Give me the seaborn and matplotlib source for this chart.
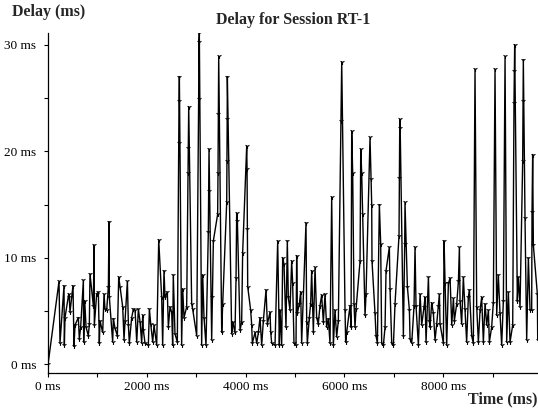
import matplotlib
matplotlib.use("Agg")
import matplotlib.pyplot as plt
from matplotlib.ticker import MultipleLocator
import seaborn as sns

times = [
    0, 223, 243, 324, 331, 344, 419, 431, 445, 506, 526, 547, 614, 634, 661, 716, 722, 743, 770, 816,
    837, 850, 918, 932, 938, 985, 1019, 1039,
    1053, 1107, 1134, 1154, 1188, 1222, 1235, 1242, 1309, 1323, 1356, 1404, 1431, 1458, 1512, 1539,
    1559, 1607, 1627, 1646, 1694, 1728, 1762, 1796, 1829, 1863, 1897, 1917, 1930, 1964, 2031, 2052,
    2079, 2120, 2146, 2200, 2241,
    2301, 2321, 2348, 2368, 2415, 2436, 2470, 2504, 2523, 2536, 2570, 2618, 2645, 2652, 2659, 2705,
    2726, 2753, 2807, 2834, 2841, 2848, 2908, 2928, 3010, 3049, 3056, 3063, 3110, 3131, 3158, 3198,
    3245, 3252, 3259, 3313, 3327, 3347, 3434, 3441, 3448, 3455,
    3516, 3536, 3617, 3623, 3627, 3630, 3718, 3738, 3785, 3806, 3819, 3833, 3887, 3920, 3940, 4022,
    4029, 4035, 4042, 4102, 4123, 4136, 4191, 4225, 4258, 4291, 4325, 4359, 4413, 4440, 4494, 4508,
    4528, 4595, 4649, 4683,
    4696, 4730, 4750, 4777, 4817, 4844, 4864, 4898, 4932, 4952, 4979, 5020, 5033, 5047, 5087, 5115,
    5134, 5222, 5236, 5249, 5289, 5316, 5337, 5371, 5405, 5438, 5471, 5505, 5539, 5573, 5607, 5640,
    5674, 5708, 5742, 5776, 5809, 5843, 5877,
    5931, 5945, 6012, 6025, 6045, 6113, 6134, 6147, 6167, 6194, 6214, 6235, 6316, 6330, 6349, 6369,
    6417, 6437, 6518, 6538, 6552, 6558, 6619, 6640, 6667, 6707, 6734, 6754, 6788, 6822, 6842, 6909,
    6923, 6957, 6991, 7024, 7105, 7112, 7119, 7126,
    7193, 7220, 7226, 7274, 7315, 7328, 7362, 7409, 7429, 7449, 7497, 7531, 7564, 7611, 7632, 7652,
    7700, 7719, 7733, 7766, 7800, 7834, 7868, 7901, 7922, 7935, 8003, 8017, 8037, 8070, 8104, 8138,
    8172, 8206, 8225, 8273, 8307, 8327,
    8340, 8373, 8407, 8440, 8474, 8508, 8529, 8576, 8609, 8643, 8677, 8711, 8745, 8778, 8812, 8846,
    8880, 8914, 8933, 8980, 9014, 9048, 9082, 9115, 9149, 9183, 9217, 9251, 9284, 9318, 9352, 9406,
    9432, 9439, 9446, 9500, 9520, 9554, 9608, 9615, 9621, 9655, 9689, 9723, 9757, 9790, 9797,
    9810, 9824, 9905, 9912,
]
delays = [
    0, 7.8, 2.0, 7.4, 1.8, 4.4, 6.6, 6.3, 4.9, 7.4, 1.7, 3.7, 4.4, 2.4, 3.5, 7.9, 2.1, 6.0, 3.5, 2.7,
    3.8, 8.5, 5.5, 11.2, 3.7, 6.6, 6.8, 2.0,
    4.1, 3.0, 6.6, 5.2, 5.1, 7.3, 13.4, 6.3, 2.1, 4.3, 3.4, 2.7, 8.2, 7.3, 5.4, 2.3,
    4.1, 7.8, 3.7, 2.0, 4.4, 5.2, 5.1, 2.1, 5.2, 4.0, 2.0, 4.6, 3.2, 2.0, 1.8, 5.2,
    3.8, 2.1, 3.7, 1.8, 11.7,
    6.3, 1.8, 8.8, 6.3, 6.8, 3.5, 5.4, 4.9, 1.8, 8.4, 2.9, 2.1, 20.8, 24.7, 27.0, 1.8,
    7.1, 4.4, 5.4, 18.0, 20.3, 24.2, 5.7, 5.2, 2.7, 24.9, 30.3, 31.1, 1.8, 8.4, 4.4, 1.8,
    12.4, 16.3, 20.2, 2.3, 6.3, 11.6, 14.1, 18.0, 23.5, 28.9,
    3.0, 5.7, 15.2, 19.1, 23.0, 27.0, 2.9, 4.0, 3.0, 8.1, 14.2, 13.5, 3.2, 4.0, 10.5, 20.5,
    18.3, 12.7, 7.3, 5.1, 3.7, 2.0, 3.0, 2.0, 3.0, 4.4, 1.8, 4.1, 7.0, 3.8, 4.9, 3.0,
    2.0, 1.8, 11.6, 1.8,
    5.1, 1.8, 10.0, 9.4, 3.5, 11.6, 6.3, 5.1, 9.7, 7.6, 2.0, 1.8, 10.2, 4.8, 5.7, 6.8,
    2.0, 13.3, 4.0, 2.0, 4.4, 5.7, 8.8, 3.0, 9.1, 4.4, 3.8, 5.5, 6.5, 4.0, 6.6, 3.5,
    4.3, 2.0, 15.7, 1.8, 5.1, 2.6, 4.1,
    22.8, 28.4, 5.1, 2.1, 3.0, 5.5, 3.5, 21.9, 18.0, 5.7, 3.5, 5.2, 9.7, 20.2, 18.0, 14.1,
    4.6, 6.6, 21.3, 17.4, 15.0, 9.7, 4.8, 2.7, 2.0, 15.0, 11.3, 2.0, 1.8, 3.5, 8.8, 11.0,
    7.1, 2.0, 1.8, 5.7, 12.1, 17.5, 22.2, 23.0,
    2.7, 11.3, 15.2, 7.3, 5.1, 2.4, 2.0, 5.5, 11.0, 5.5, 1.8, 6.6, 3.7, 5.4, 6.3, 2.1,
    8.2, 4.1, 3.5, 5.8, 4.8, 2.3, 3.8, 5.5, 6.6, 3.8, 2.0, 11.6, 7.6, 1.8, 7.6, 8.1,
    3.7, 6.2, 4.1, 5.7, 7.8, 11.0,
    6.0, 3.8, 8.2, 5.2, 2.1, 6.3, 7.0, 2.7, 2.0, 27.7, 5.4, 2.1, 5.1, 6.3, 2.1, 5.7,
    3.7, 5.1, 2.1, 3.5, 5.8, 27.7, 4.6, 8.4, 4.8, 1.8, 6.0, 28.9, 2.1, 6.8, 2.1, 3.7,
    24.5, 27.5, 30.0, 6.0, 8.2, 5.4, 19.1, 24.7, 28.6, 13.7, 2.3, 10.0, 5.1, 5.1, 14.3,
    19.7, 11.2, 6.6, 2.3,
]
x_ticks = [0, 2000, 4000, 6000, 8000]
y_ticks = [0, 10, 20, 30]

sns.set_style("ticks")
plt.rcParams["font.family"] = ["Liberation Serif", "DejaVu Serif"]

fig = plt.figure(figsize=(5.38, 4.11), dpi=100)
ax = fig.add_axes([48 / 538, 38 / 411, 490 / 538, 340 / 411])

sns.lineplot(x=times, y=delays, ax=ax, estimator=None, sort=False, color="black",
             linewidth=1.0, marker="1", markersize=3.5, markeredgewidth=0.8,
             markeredgecolor="black")

ax.set_xlim(0, 9918)
ax.set_ylim(-0.8, 31.1)
ax.set_xticks(x_ticks)
ax.set_xticklabels([f"{v} ms" for v in x_ticks])
ax.set_yticks(y_ticks)
ax.set_yticklabels([f"{v} ms" for v in y_ticks])
ax.xaxis.set_minor_locator(MultipleLocator(1000))
ax.yaxis.set_minor_locator(MultipleLocator(5))
ax.tick_params(which="both", direction="out", length=3, width=0.8, colors="black", labelsize=9.5)
ax.tick_params(axis="y", pad=5.5)
ax.tick_params(axis="x", pad=3)
ax.set_xlabel("")
ax.set_ylabel("")
sns.despine(ax=ax)
for s in ["left", "bottom"]:
    ax.spines[s].set_color("black")
    ax.spines[s].set_linewidth(0.9)

fig.text(12 / 538, 1 - 12 / 411, "Delay (ms)", fontsize=11.5, fontweight="bold", va="center", ha="left")
fig.text(293 / 538, 1 - 20 / 411, "Delay for Session RT-1", fontsize=11.5, fontweight="bold",
         va="center", ha="center")
fig.text(537 / 538, 1 - 399 / 411, "Time (ms)", fontsize=11.5, fontweight="bold", va="center", ha="right")

fig.savefig("out.png", dpi=100, facecolor="white")
